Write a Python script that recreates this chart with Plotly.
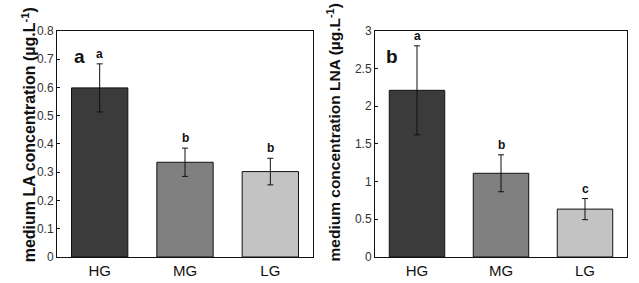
import plotly.graph_objects as go

categories = ["HG", "MG", "LG"]
la_values = [0.598, 0.335, 0.302]
la_errors = [0.085, 0.05, 0.047]
la_letters = ["a", "b", "b"]
lna_values = [2.21, 1.11, 0.635]
lna_errors = [0.59, 0.245, 0.14]
lna_letters = ["a", "b", "c"]
bar_colors = ["#3b3b3b", "#808080", "#c3c3c3"]
la_ticks = [0, 0.1, 0.2, 0.3, 0.4, 0.5, 0.6, 0.7, 0.8]
lna_ticks = [0, 0.5, 1, 1.5, 2, 2.5, 3]

FONT = "Liberation Sans, Arial, sans-serif"
W, H = 639, 283

fig = go.Figure()
for vals, errs, xa, ya in [(la_values, la_errors, "x", "y"), (lna_values, lna_errors, "x2", "y2")]:
    fig.add_trace(go.Bar(
        x=categories, y=vals, xaxis=xa, yaxis=ya,
        marker=dict(color=bar_colors, line=dict(color="#111111", width=1)),
        error_y=dict(type="data", array=errs, visible=True, color="#111111", thickness=1, width=3),
        showlegend=False,
    ))

annotations = []
for vals, errs, letters, xr, yr in [(la_values, la_errors, la_letters, "x", "y"),
                                    (lna_values, lna_errors, lna_letters, "x2", "y2")]:
    for c, v, e, l in zip(categories, vals, errs, letters):
        annotations.append(dict(x=c, y=v + e, xref=xr, yref=yr, text="<b>%s</b>" % l,
                                showarrow=False, yanchor="bottom", yshift=1,
                                font=dict(family=FONT, size=12, color="#111111")))

annotations += [
    dict(x=72 / W, y=1 - 39 / H, xref="paper", yref="paper", text="<b>a</b>", showarrow=False,
         font=dict(family=FONT, size=19, color="#111111")),
    dict(x=392 / W, y=1 - 39 / H, xref="paper", yref="paper", text="<b>b</b>", showarrow=False,
         font=dict(family=FONT, size=19, color="#111111")),
    dict(x=17 / W, y=1 - 135 / H, xref="paper", yref="paper",
         text="<b>medium LA concentration (µg.L<sup>-1</sup>)</b>", textangle=-90, showarrow=False,
         font=dict(family=FONT, size=16, color="#111111")),
    dict(x=334 / W, y=1 - 132 / H, xref="paper", yref="paper",
         text="<b>medium concentration LNA (µg.L<sup>-1</sup>)</b>", textangle=-90, showarrow=False,
         font=dict(family=FONT, size=15.5, color="#111111")),
]

axis_common = dict(showline=True, linecolor="#111111", linewidth=1, mirror=True,
                   showgrid=False, zeroline=False)
ydom = [1 - 263 / H, 1 - 25 / H]
fig.update_layout(
    width=W, height=H, margin=dict(l=0, r=0, t=0, b=0),
    paper_bgcolor="white", plot_bgcolor="white", bargap=0.34,
    font=dict(family=FONT, color="#222222"),
    xaxis=dict(domain=[57 / W, 313 / W], ticks="", tickfont=dict(size=15, color="#111111"), **axis_common),
    xaxis2=dict(domain=[375 / W, 627 / W], anchor="y2", ticks="", tickfont=dict(size=15, color="#111111"), **axis_common),
    yaxis=dict(domain=ydom, range=[0, 0.8], tickvals=la_ticks, ticks="inside", ticklen=3,
               tickcolor="#111111", tickfont=dict(size=12, color="#333333"), **axis_common),
    yaxis2=dict(domain=ydom, anchor="x2", range=[0, 3], tickvals=lna_ticks, ticks="inside", ticklen=3,
                tickcolor="#111111", tickfont=dict(size=12, color="#333333"), **axis_common),
    annotations=annotations,
)
fig.write_html("out.html")
